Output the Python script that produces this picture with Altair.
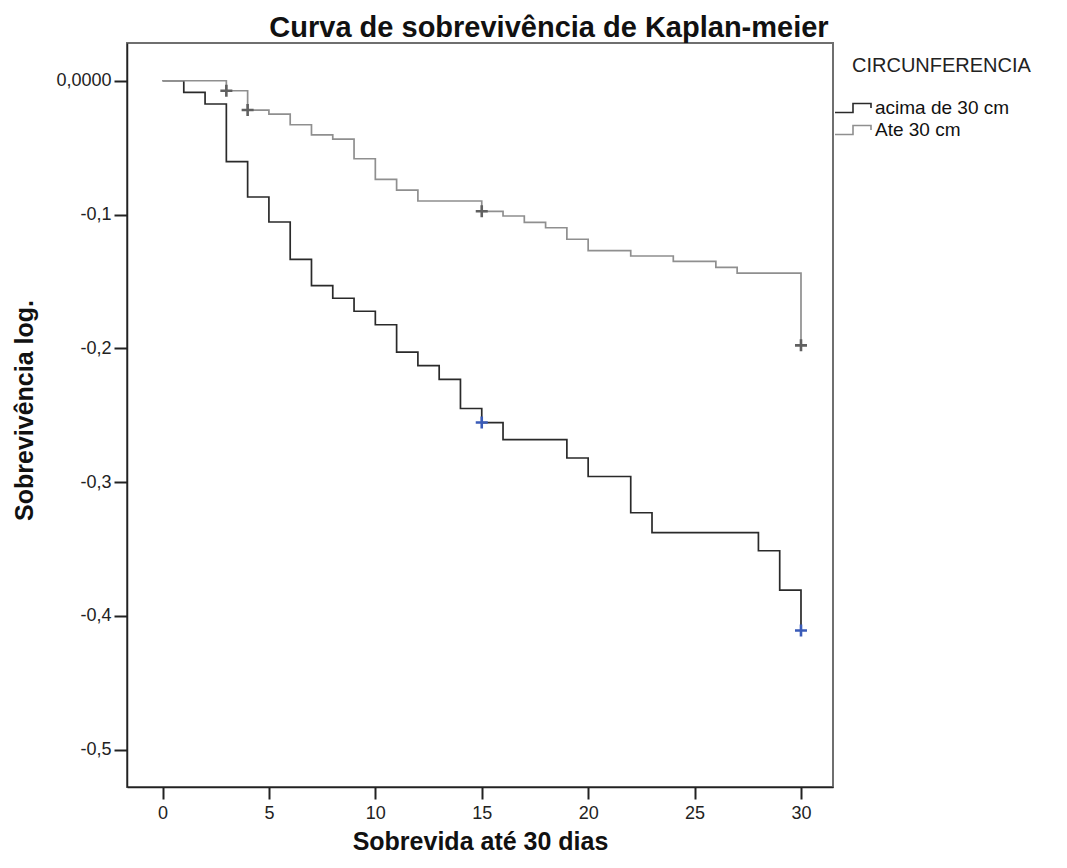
import altair as alt
import pandas as pd

# ---------------- data ----------------
grupos = ["acima de 30 cm", "Ate 30 cm"]

tempo_acima = [0, 1, 2, 3, 4, 5, 6, 7, 8, 9, 10, 11, 12, 13, 14, 15, 16, 19, 20, 22, 23, 28, 29, 30]
surv_acima = [0, -0.0087, -0.0174, -0.0605, -0.0869, -0.1056, -0.1336, -0.1531, -0.1626, -0.1723,
              -0.1824, -0.2028, -0.2130, -0.2232, -0.2450, -0.2555, -0.2683, -0.2820, -0.2958,
              -0.3229, -0.3377, -0.3513, -0.3807, -0.4109]

tempo_ate = [0, 3, 4, 5, 6, 7, 8, 9, 10, 11, 12, 15, 16, 17, 18, 19, 20, 22, 24, 26, 27, 30]
surv_ate = [0, -0.0075, -0.0219, -0.0249, -0.0329, -0.0404, -0.0436, -0.0583, -0.0737, -0.0817,
            -0.0899, -0.0976, -0.1011, -0.1059, -0.1099, -0.1185, -0.1270, -0.1310, -0.1350,
            -0.1395, -0.1438, -0.1978]

cens_acima_t = [15, 30]
cens_acima_v = [-0.2555, -0.4109]
cens_ate_t = [3, 4, 15, 30]
cens_ate_v = [-0.0075, -0.0219, -0.0976, -0.1978]

x_ticks = [0, 5, 10, 15, 20, 25, 30]
y_ticks = [0, -0.1, -0.2, -0.3, -0.4, -0.5]

# ---------------- tables ----------------
df_lines = pd.concat([
    pd.DataFrame({"tempo": tempo_acima, "sobrev": surv_acima, "grupo": grupos[0]}),
    pd.DataFrame({"tempo": tempo_ate, "sobrev": surv_ate, "grupo": grupos[1]}),
], ignore_index=True)

df_cens = pd.concat([
    pd.DataFrame({"tempo": cens_acima_t, "sobrev": cens_acima_v, "grupo": grupos[0]}),
    pd.DataFrame({"tempo": cens_ate_t, "sobrev": cens_ate_v, "grupo": grupos[1]}),
], ignore_index=True)

FONT = "Liberation Sans"
STEP_SYMBOL = "M-2.8,0.45L-1,0.45L-1,-0.45L0.8,-0.45L0.8,0"
PLUS = "M-1,0L1,0M0,-1L0,1"

x_scale = alt.Scale(domain=[-1.668, 31.504], nice=False, zero=False)
y_scale = alt.Scale(domain=[-0.5279, 0.0282], nice=False, zero=False)

x_enc = alt.X(
    "tempo:Q", scale=x_scale,
    axis=alt.Axis(
        values=x_ticks, format="d", title="Sobrevida até 30 dias",
        tickSize=12, tickWidth=2, tickColor="#222", labelPadding=5,
        labelFontSize=18, labelFont=FONT, labelColor="#222",
        domainColor="#222", domainWidth=1.5,
        titleFontSize=25, titleFont=FONT, titleFontWeight="bold", titleColor="#111",
        titleY=54, titleBaseline="middle", grid=False,
    ),
)
y_enc = alt.Y(
    "sobrev:Q", scale=y_scale,
    axis=alt.Axis(
        values=y_ticks,
        labelExpr="datum.value == 0 ? '0,0000' : '-0,' + round(-datum.value * 10)",
        title="Sobrevivência log.",
        tickSize=13, tickWidth=2, tickColor="#222", labelPadding=3,
        labelFontSize=18, labelFont=FONT, labelColor="#222",
        domainColor="#222", domainWidth=1.5,
        titleFontSize=25, titleFont=FONT, titleFontWeight="bold", titleColor="#111",
        titleAngle=270, titleX=-103, titleY=367, titleAlign="center",
        titleBaseline="middle", grid=False,
    ),
)

lines = alt.Chart(df_lines).mark_line(interpolate="step-after", strokeWidth=1.7).encode(
    x=x_enc,
    y=y_enc,
    color=alt.Color(
        "grupo:N",
        scale=alt.Scale(domain=grupos, range=["#2a2a2a", "#8f8f8f"]),
        legend=alt.Legend(
            title="CIRCUNFERENCIA", orient="none", legendX=725, legendY=13,
            symbolType=STEP_SYMBOL, symbolSize=400, symbolStrokeWidth=1.6,
            labelOffset=1, padding=0, titlePadding=21, rowPadding=1,
            labelFontSize=19, labelFont=FONT, labelColor="#111",
            titleFontSize=20, titleFont=FONT, titleFontWeight="normal", titleColor="#222",
        ),
    ),
)

marks = alt.Chart(df_cens).mark_point(shape=PLUS, size=144, strokeWidth=2.6, filled=False, opacity=1).encode(
    x="tempo:Q",
    y="sobrev:Q",
    stroke=alt.Stroke("grupo:N", scale=alt.Scale(domain=grupos, range=["#3a5bb8", "#606060"]), legend=None),
)

chart = alt.layer(lines, marks).properties(
    width=706,
    height=744,
    title=alt.TitleParams(
        "Curva de sobrevivência de Kaplan-meier", anchor="middle", frame="group", dx=69,
        offset=-23, baseline="alphabetic", fontSize=29, font=FONT, fontWeight="bold", color="#111",
    ),
    autosize=alt.AutoSizeParams(type="none"),
    padding={"left": 119, "top": 35, "right": 220, "bottom": 73},
).configure_view(stroke="#6f6f6f", strokeWidth=2)

chart.save("out.html", embed_options={"renderer": "svg", "actions": False})
